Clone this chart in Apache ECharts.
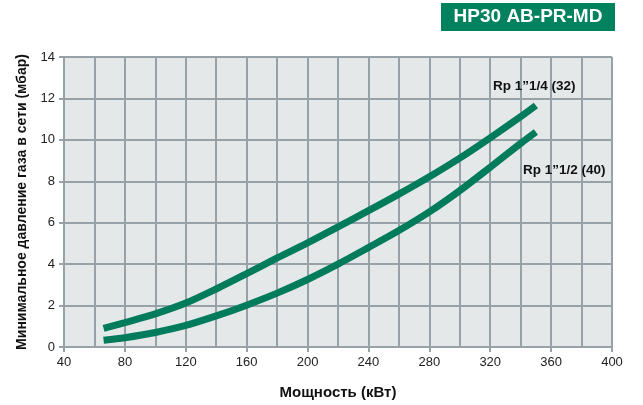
<!DOCTYPE html>
<html><head><meta charset="utf-8">
<script src="https://cdn.jsdelivr.net/npm/echarts@6/dist/echarts.min.js"></script>
<style>html,body{margin:0;padding:0;background:#fff}#c{width:643px;height:405px}</style>
</head><body><div id="c"></div>
<script>
const title = 'HP30 AB-PR-MD';
const xName = 'Мощность (кВт)';
const yName = 'Минимальное давление газа в сети (мбар)';
const seriesNames = ['Rp 1\u201d1/4 (32)', 'Rp 1\u201d1/2 (40)'];
const upperX = [66, 80, 100, 120, 140, 160, 180, 200, 220, 240, 260, 280, 300, 320, 340, 350];
const upperY = [0.9, 1.18, 1.6, 2.12, 2.8, 3.54, 4.3, 5.03, 5.8, 6.58, 7.38, 8.22, 9.12, 10.1, 11.12, 11.66];
const lowerX = [66, 80, 100, 120, 140, 160, 180, 200, 220, 240, 260, 280, 300, 320, 340, 350];
const lowerY = [0.33, 0.45, 0.7, 1.04, 1.5, 2.02, 2.6, 3.26, 4.0, 4.8, 5.62, 6.52, 7.55, 8.68, 9.83, 10.38];

const green = '#007b5b';
const grey = '#97a2a8';
const chart = echarts.init(document.getElementById('c'));
const zip = (xs, ys) => xs.map((x, i) => [x, ys[i]]);
chart.setOption({
  animation: false,
  grid: { left: 64, right: 31, top: 57, bottom: 56, show: true, backgroundColor: '#e5e8e9', borderWidth: 0 },
  xAxis: {
    type: 'value', min: 40, max: 400, interval: 40,
    name: xName, nameLocation: 'middle', nameGap: 38,
    nameTextStyle: { fontFamily: 'Liberation Sans', fontWeight: 'bold', fontSize: 15, color: '#111' },
    axisLine: { show: true, lineStyle: { color: grey, width: 2 } },
    axisTick: { show: true, length: 5, lineStyle: { color: grey, width: 2 } },
    axisLabel: { color: '#222', fontFamily: 'Liberation Sans', fontSize: 13, margin: 9 },
    splitLine: { show: true, lineStyle: { color: grey, width: 2 } },
    minorTick: { show: false, splitNumber: 2 },
    minorSplitLine: { show: true, lineStyle: { color: grey, width: 2 } }
  },
  yAxis: {
    type: 'value', min: 0, max: 14, interval: 2,
    name: yName, nameLocation: 'middle', nameGap: 35,
    nameTextStyle: { fontFamily: 'Liberation Sans', fontWeight: 'bold', fontSize: 14, color: '#111' },
    axisLine: { show: true, lineStyle: { color: grey, width: 2 } },
    axisTick: { show: true, length: 5, lineStyle: { color: grey, width: 2 } },
    axisLabel: { color: '#222', fontFamily: 'Liberation Sans', fontSize: 13, margin: 9 },
    splitLine: { show: true, lineStyle: { color: grey, width: 2 } }
  },
  series: [
    { name: seriesNames[0], type: 'line', smooth: 0.3, showSymbol: false, data: zip(upperX, upperY),
      lineStyle: { color: green, width: 7, cap: 'butt' } },
    { name: seriesNames[1], type: 'line', smooth: 0.3, showSymbol: false, data: zip(lowerX, lowerY),
      lineStyle: { color: green, width: 7, cap: 'butt' } }
  ],
  graphic: [
    { type: 'rect', z: 100, shape: { x: 441, y: 3, width: 174, height: 28 }, style: { fill: '#00825f' } },
    { type: 'text', z: 101, x: 528, y: 17, style: { text: title, fill: '#fff', font: 'bold 19px "Liberation Sans"', align: 'center', verticalAlign: 'middle' } },
    { type: 'text', z: 100, x: 493, y: 86, style: { text: seriesNames[0], fill: '#111', font: 'bold 13.5px "Liberation Sans"', verticalAlign: 'middle' } },
    { type: 'text', z: 100, x: 523, y: 170, style: { text: seriesNames[1], fill: '#111', font: 'bold 13.5px "Liberation Sans"', verticalAlign: 'middle' } }
  ]
});
</script></body></html>
